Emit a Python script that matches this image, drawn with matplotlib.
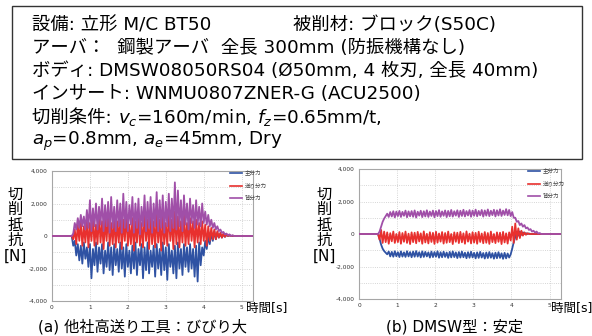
import numpy as np
import matplotlib
matplotlib.use("Agg")
import matplotlib.pyplot as plt
from matplotlib.patches import Rectangle

plt.rcParams['font.family'] = ['DejaVu Sans', 'Noto Sans CJK JP']
plt.rcParams['mathtext.fontset'] = 'dejavusans'

# ---------------- data ----------------
series_names = ['主分力', '送り分力', '背分力']
series_colors = ['#2f52a3', '#e8302e', '#a04fa8']
yticks = [-4000, -2000, 0, 2000, 4000]
ytick_labels = ['-4,000', '-2,000', '0', '2,000', '4,000']
xticks = [0, 1, 2, 3, 4, 5]
x_max = 5.3
dt = 0.04

# (a) other-company high-feed tool : strong chatter  (start time, samples every dt)
a_start = 0.52
a_main = [0, -600, -300, -1200, -500, -1500, -600, -1700, -400, -1400, -700, -1900,
          -500, -2600, -800, -1800, -400, -2200, -700, -1700, -500, -2300, -900, -1900,
          -400, -2100, -700, -2400, -500, -1800, -800, -2200, -400, -2000, -700, -2500,
          -500, -1900, -900, -2300, -600, -2000, -400, -2400, -800, -1800, -500, -2600,
          -700, -2100, -400, -2300, -900, -1900, -600, -2500, -500, -2000, -800, -2400,
          -400, -2100, -700, -2700, -500, -1900, -900, -2300, -600, -2600, -400, -2000,
          -800, -2400, -500, -1900, -700, -2200, -500, -2000, -800, -2500, -600, -2800,
          -400, -1800, -700, -1200, -300, -800, 0, -500, 200, -300, 300, -200,
          200, -100, 150, -100, 100, -50, 50, 0, 30, 0, 0, 0]
a_feed = [0, -200, 400, -500, 700, -300, 900, -600, 600, -400, 1000, -700,
          800, -300, 1100, -600, 700, -500, 1200, -400, 900, -800, 1000, -300,
          1300, -600, 800, -500, 1100, -700, 900, -400, 1200, -800, 1000, -300,
          1300, -600, 700, -500, 1100, -900, 900, -400, 1200, -600, 800, -700,
          1400, -300, 1000, -800, 1200, -500, 900, -700, 1300, -400, 1000, -900,
          1200, -500, 800, -600, 1400, -300, 1000, -800, 1500, -500, 1200, -700,
          900, -400, 1300, -600, 800, -500, 1100, -300, 900, -700, 1000, -400,
          800, -500, 900, -300, 700, -600, 600, -300, 500, -200, 400, -200,
          300, -100, 200, -100, 150, -50, 100, 0, 50, 0, 20, 0]
a_back = [0, 150, 800, 400, 1100, 500, 1300, 600, 1200, 400, 1600, 500,
          2200, 300, 1700, 600, 2000, 400, 1800, 700, 2300, 300, 1900, 600,
          2100, 200, 2400, 500, 1800, 300, 2200, 600, 2000, 200, 2600, 500,
          2100, 300, 1900, 700, 2400, 200, 2000, 500, 2300, 100, 1800, 600,
          2500, 300, 2100, 500, 2400, 200, 2000, 600, 2700, 300, 2200, 500,
          2500, 200, 2100, 600, 2600, 300, 2300, 500, 3300, 400, 2800, 600,
          2200, 300, 2500, 700, 2000, 400, 2300, 800, 1900, 500, 2200, 700,
          1800, 600, 2000, 800, 1500, 700, 1300, 600, 1000, 500, 800, 400,
          600, 300, 400, 200, 250, 100, 150, 50, 100, 0, 50, 0]

# (b) DMSW type : stable
b_start = 0.50
b_main = [0, -300, -650, -900, -1050, -1150, -1250, -1080, -1380, -1100, -1400, -1060,
          -1370, -1120, -1420, -1070, -1390, -1130, -1410, -1060, -1380, -1110, -1430, -1080,
          -1400, -1050, -1390, -1120, -1440, -1070, -1410, -1100, -1380, -1130, -1450, -1080,
          -1420, -1110, -1400, -1060, -1460, -1120, -1430, -1090, -1410, -1140, -1470, -1100,
          -1440, -1070, -1420, -1130, -1480, -1110, -1450, -1080, -1430, -1150, -1490, -1120,
          -1460, -1090, -1440, -1160, -1500, -1130, -1470, -1100, -1450, -1170, -1510, -1140,
          -1480, -1110, -1460, -1180, -1520, -1150, -1490, -1120, -1470, -1190, -1530, -1160,
          -1500, -1200, -1450, -1250, -900, -500, -200, 150, -100, 150, -50, 100,
          0, 50, 0, 30, 0, 0, 0, 0, 0, 0, 0, 0]
b_feed = [0, -350, 250, -550, 150, -500, 100, -600, 50, -450, 150, -550,
          0, -500, 120, -600, 60, -480, 150, -550, 20, -620, 100, -500,
          80, -570, 130, -460, 40, -600, 160, -520, 10, -580, 110, -490,
          70, -610, 140, -530, 30, -470, 120, -590, 60, -540, 150, -500,
          0, -620, 100, -480, 80, -560, 130, -510, 40, -600, 160, -470,
          20, -580, 110, -530, 70, -600, 140, -490, 30, -570, 120, -540,
          60, -610, 150, -500, 0, -560, 100, -480, 80, -620, 130, -520,
          40, -590, 100, -400, 450, -550, 650, -350, 350, -250, 200, -100,
          100, -50, 50, 0, 0, 0, 0, 0, 0, 0, 0, 0]
b_back = [0, 150, 450, 750, 950, 1100, 1250, 1050, 1350, 1080, 1400, 1020,
          1380, 1100, 1420, 1050, 1360, 1120, 1440, 1030, 1390, 1090, 1410, 1060,
          1450, 1010, 1370, 1130, 1430, 1040, 1400, 1080, 1460, 1050, 1380, 1110,
          1440, 1030, 1410, 1100, 1470, 1060, 1390, 1120, 1450, 1040, 1420, 1090,
          1480, 1070, 1400, 1130, 1460, 1050, 1430, 1110, 1490, 1080, 1410, 1140,
          1470, 1060, 1440, 1120, 1500, 1090, 1420, 1150, 1480, 1070, 1450, 1130,
          1510, 1100, 1430, 1160, 1490, 1080, 1460, 1140, 1520, 1110, 1440, 1170,
          1530, 1150, 1480, 1100, 1350, 1000, 1000, 750, 800, 550, 650, 450,
          550, 350, 400, 250, 300, 150, 200, 80, 150, 30, 60, 0]

info_lines = [
    '設備: 立形 M/C BT50',
    'アーバ：  鋼製アーバ  全長 300mm (防振機構なし)',
    'ボディ: DMSW08050RS04 (Ø50mm, 4 枚刃, 全長 40mm)',
    'インサート: WNMU0807ZNER-G (ACU2500)',
]
info_line1_right = '被削材: ブロック(S50C)'
cond_prefix = '切削条件: '
cond_math1 = r'$v_c$=160m/min, $f_z$=0.65mm/t,'
cond_math2 = r'$a_p$=0.8mm, $a_e$=45mm, Dry'
captions = ['(a) 他社高送り工具：びびり大', '(b) DMSW型：安定']
ylabel_text = '切\n削\n抵\n抗\n[N]'
xlabel_text = '時間[s]'

# ---------------- figure ----------------
W, H = 592, 336
fig = plt.figure(figsize=(W / 100, H / 100), dpi=100)

def fx(px):
    return px / W

def fy(py):
    return 1 - py / H

# info box
fig.patches.append(Rectangle((fx(12), fy(159)), fx(582) - fx(12), fy(6) - fy(159),
                             transform=fig.transFigure, fill=False,
                             edgecolor='#333333', linewidth=1.0))
line_y = [25, 48, 71, 94, 118, 141]
fs_box = 13.2
fig.text(fx(32), fy(line_y[0]), info_lines[0], fontsize=fs_box, va='center', ha='left')
fig.text(fx(293), fy(line_y[0]), info_line1_right, fontsize=fs_box, va='center', ha='left')
for i in range(1, 4):
    fig.text(fx(32), fy(line_y[i]), info_lines[i], fontsize=fs_box, va='center', ha='left')
pre = fig.text(fx(32), fy(line_y[4]), cond_prefix, fontsize=fs_box, va='center', ha='left')
fig.canvas.draw()
pre_right = pre.get_window_extent().x1 / W
fig.text(pre_right, fy(line_y[4]), cond_math1, fontsize=fs_box, va='center', ha='left')
fig.text(fx(32), fy(line_y[5]), cond_math2, fontsize=fs_box, va='center', ha='left')

panels = [
    dict(rect=(52, 171, 253, 301), start=a_start, data=[a_main, a_feed, a_back],
         ylab_x=15, xlab_x=246, cap_x=143, leg=(226, 166)),
    dict(rect=(359, 169, 561, 299), start=b_start, data=[b_main, b_feed, b_back],
         ylab_x=324, xlab_x=551, cap_x=455, leg=(524, 164)),
]

for k, p in enumerate(panels):
    l, t, r, b = p['rect']
    ax = fig.add_axes([fx(l), fy(b), fx(r) - fx(l), fy(t) - fy(b)])
    order = [0, 2, 1]
    for j in order:
        vals = np.asarray(p['data'][j], dtype=float)
        tt = p['start'] + dt * np.arange(len(vals))
        x = np.concatenate([[0.0], tt, [x_max]])
        y = np.concatenate([[0.0], vals, [0.0]])
        ax.plot(x, y, color=series_colors[j], linewidth=1.3, zorder=3 + j)
    handles = [plt.Line2D([], [], color=series_colors[j], linewidth=1.2) for j in range(3)]
    ax.set_xlim(0, x_max)
    ax.set_ylim(-4000, 4000)
    ax.set_yticks(yticks)
    ax.set_yticklabels(ytick_labels)
    ax.set_xticks(xticks)
    ax.set_yticks(np.arange(-4000, 4001, 1000), minor=True)
    ax.tick_params(axis='both', which='both', length=0, labelsize=4.2, pad=3,
                   labelcolor='#333333')
    ax.grid(True, which='minor', axis='y', color='#c8c8c8', linestyle=':', linewidth=0.6)
    ax.grid(True, which='major', axis='both', color='#c8c8c8', linestyle=':', linewidth=0.6)
    for s in ax.spines.values():
        s.set_color('#a6a6a6')
        s.set_linewidth(0.8)
    ax.set_facecolor('white')
    fig.legend(handles, series_names, loc='upper left',
               bbox_to_anchor=(fx(p['leg'][0]), fy(p['leg'][1])),
               frameon=False, fontsize=4, handlelength=2.2, handletextpad=0.5,
               labelspacing=1.3, borderpad=0.2, labelcolor='#444444')
    fig.text(fx(p['ylab_x']), fy(225), ylabel_text, fontsize=11, ha='center', va='center',
             linespacing=1.05)
    fig.text(fx(p['xlab_x']), fy(308), xlabel_text, fontsize=9, ha='left', va='center')
    fig.text(fx(p['cap_x']), fy(327), captions[k], fontsize=11, ha='center', va='center')

fig.savefig('out.png', dpi=100, facecolor='white')
